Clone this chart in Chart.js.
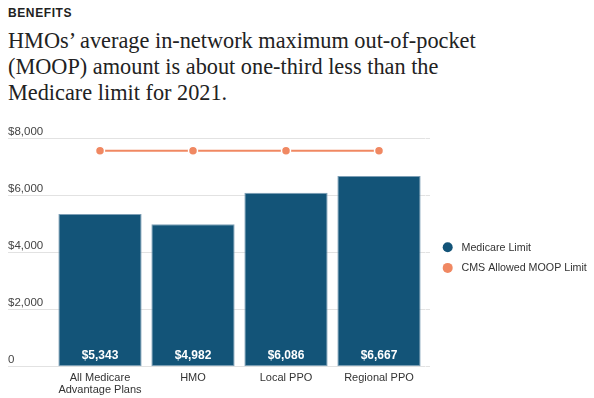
<!DOCTYPE html>
<html><head><meta charset="utf-8">
<script src="https://cdn.jsdelivr.net/npm/chart.js@4"></script>
<style>
html,body{margin:0;padding:0;background:#fff;width:594px;height:398px;overflow:hidden}
#kicker{position:absolute;left:8px;top:6px;font:bold 12px "Liberation Sans",Arial,sans-serif;color:#222;letter-spacing:.6px}
#title{position:absolute;left:8px;top:28px;width:586px;font:22.3px/26px "Liberation Serif",serif;color:#222;white-space:nowrap}
#wrap{position:absolute;left:0;top:120px;width:594px;height:278px}
</style></head><body>
<div id="kicker">BENEFITS</div>
<div id="title">HMOs’ average in-network maximum out-of-pocket<br>(MOOP) amount is about one-third less than the<br>Medicare limit for 2021.</div>
<div id="wrap"><canvas id="c"></canvas></div>
<script>
const categories = [["All Medicare","Advantage Plans"],"HMO","Local PPO","Regional PPO"];
const medicareLimit = [5343,4982,6086,6667];
const cmsMoopLimit = [7550,7550,7550,7550];
const yTickStep = 2000;
const yMax = 8000;

const SANS = '"Liberation Sans", Arial, sans-serif';
const GRID = '#e2e2e2';
const BLUE = '#135478';
const ORANGE = '#f08862';

const valueLabels = {
  id: 'valueLabels',
  afterDatasetsDraw(chart) {
    const meta = chart.getDatasetMeta(0);
    const ctx = chart.ctx;
    ctx.save();
    ctx.font = 'bold 12px ' + SANS;
    ctx.fillStyle = '#ffffff';
    ctx.textAlign = 'center';
    ctx.textBaseline = 'middle';
    meta.data.forEach((bar, i) => {
      ctx.fillText('$' + medicareLimit[i].toLocaleString('en-US'), bar.x, bar.base - 10.5);
    });
    ctx.restore();
  }
};

const sideLegend = {
  id: 'sideLegend',
  afterDraw(chart) {
    const ctx = chart.ctx;
    const x0 = chart.chartArea.right + 22.2;
    let y = 127.3;
    ctx.save();
    ctx.font = '10.7px ' + SANS;
    ctx.textBaseline = 'middle';
    ctx.textAlign = 'left';
    chart.data.datasets.forEach(ds => {
      ctx.fillStyle = ds.legendColor;
      ctx.beginPath();
      ctx.arc(x0, y, 5, 0, Math.PI * 2);
      ctx.fill();
      ctx.fillStyle = '#333';
      ctx.fillText(ds.label, x0 + 13.8, y + 0.5);
      y += 20.6;
    });
    ctx.restore();
  }
};

new Chart(document.getElementById('c'), {
  data: {
    labels: categories,
    datasets: [
      {
        type: 'bar',
        label: 'Medicare Limit',
        legendColor: BLUE,
        data: medicareLimit,
        backgroundColor: BLUE,
        borderColor: '#7d9fb6',
        borderWidth: 1,
        borderSkipped: false,
        categoryPercentage: 1,
        barPercentage: 0.895
      },
      {
        type: 'line',
        label: 'CMS Allowed MOOP Limit',
        legendColor: ORANGE,
        data: cmsMoopLimit,
        borderColor: ORANGE,
        backgroundColor: ORANGE,
        borderWidth: 2,
        pointRadius: 4.5,
        pointBackgroundColor: ORANGE,
        pointBorderColor: '#ffffff',
        pointBorderWidth: 1.5
      }
    ]
  },
  options: {
    responsive: true,
    maintainAspectRatio: false,
    animation: false,
    layout: { padding: { left: 8, right: 164, top: 18, bottom: 2 } },
    plugins: {
      title: { display: false },
      tooltip: { enabled: false },
      legend: { display: false }
    },
    scales: {
      x: {
        afterFit(s) { s.height = 29.3; },
        grid: { display: false, drawTicks: false },
        border: { display: false },
        ticks: { color: '#333', font: { family: SANS, size: 11, lineHeight: 1.1 }, padding: 5, maxRotation: 0, autoSkip: false }
      },
      y: {
        position: 'left',
        min: 0,
        max: yMax,
        afterFit(s) { s.width = 45.5; },
        ticks: {
          stepSize: yTickStep,
          callback: v => v === 0 ? '0' : '$' + v.toLocaleString('en-US'),
          color: '#444',
          font: { family: SANS, size: 11.5 },
          crossAlign: 'far',
          labelOffset: -6.5,
          padding: 0
        },
        grid: { color: GRID, lineWidth: 1, drawTicks: true, tickLength: 45.5, tickColor: GRID },
        border: { display: false }
      },
      y2: {
        position: 'right',
        min: 0,
        max: yMax,
        afterFit(s) { s.width = 4.5; },
        ticks: { display: false, stepSize: yTickStep },
        grid: { drawOnChartArea: false, drawTicks: true, tickLength: 4.5, tickColor: GRID, color: GRID },
        border: { display: false }
      }
    }
  },
  plugins: [valueLabels, sideLegend]
});
</script>
</body></html>
